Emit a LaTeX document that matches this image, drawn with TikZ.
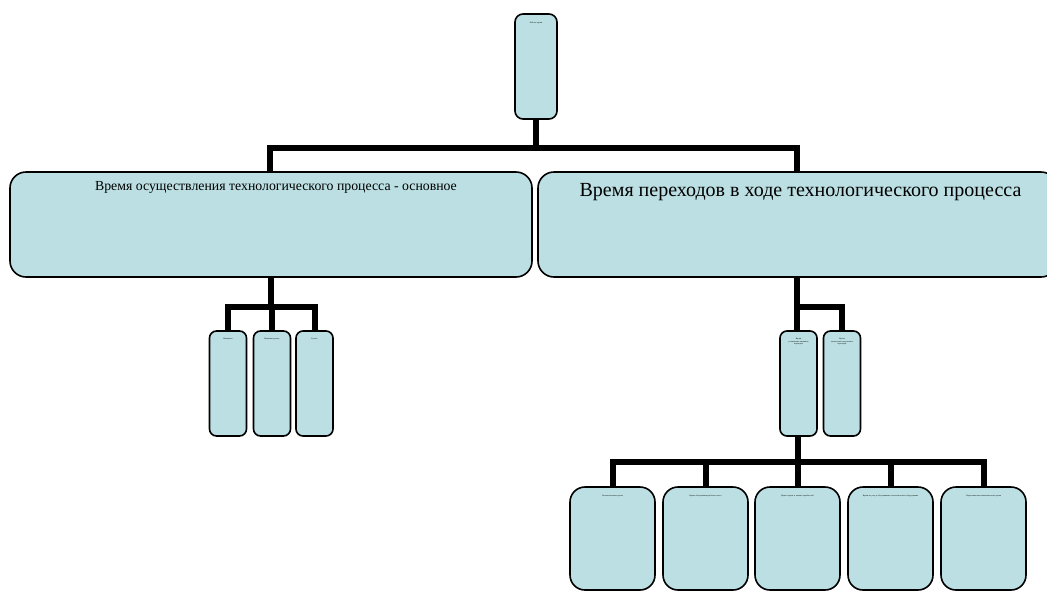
\documentclass[tikz,border=0pt]{standalone}
\usepackage{fontspec}
\setmainfont{Liberation Serif}
\definecolor{boxfill}{HTML}{BBDFE2}
\tikzset{
  box/.style={draw=black, line width=1.6pt, fill=boxfill, rectangle, inner sep=0pt, outer sep=0pt},
  bigbox/.style={box, rounded corners=16pt, minimum height=105pt},
  tallbox/.style={box, rounded corners=7pt, minimum width=37pt, minimum height=105pt},
  lowbox/.style={box, rounded corners=15pt, minimum width=85pt, minimum height=103pt},
  conn/.style={line width=6pt, draw=black},
  tiny/.style={font=\fontsize{2}{2.4}\selectfont, align=center, anchor=north, text width=32pt},
}
\begin{document}
\begin{tikzpicture}[x=1pt,y=1pt]
\useasboundingbox (0,0) rectangle (1047,-590);
\coordinate (j1) at (536,-148);
\coordinate (j2) at (271,-307);
\coordinate (j3) at (797,-307);
\coordinate (j4) at (798,-462);
% boxes
\node[box, rounded corners=8pt, minimum width=42pt, minimum height=105pt,
  label={[tiny, yshift=-5pt]north:Рабочее время}] (top) at (536,-66.5) {};
\node[bigbox, minimum width=522pt,
  label={[anchor=north, yshift=-6pt, xshift=5pt, font=\fontsize{13.8}{15}\selectfont]north:Время осуществления технологического процесса - основное}] (L) at (271,-224.5) {};
\node[bigbox, minimum width=519pt,
  label={[anchor=north, yshift=-8pt, xshift=3pt, font=\fontsize{20}{23}\selectfont]north:Время переходов в ходе технологического процесса}] (R) at (797.5,-224.5) {};
\node[tallbox, label={[tiny, yshift=-4pt]north:Машинное}] (s1) at (228,-383.5) {};
\node[tallbox, label={[tiny, yshift=-4pt]north:Машинно-ручное}] (s2) at (272,-383.5) {};
\node[tallbox, label={[tiny, yshift=-4pt]north:Ручное}] (s3) at (314.5,-383.5) {};
\node[tallbox, label={[tiny, yshift=-4pt]north:Время\\ установочно-зажимных\\ переходов}] (t1) at (798.5,-383.5) {};
\node[tallbox, label={[tiny, yshift=-4pt]north:Время\\ транспортно-загрузочных\\ переходов}] (t2) at (842,-383.5) {};
\node[lowbox, label={[tiny, text width=80pt, yshift=-5pt]north:Вспомогательное время}] (b1) at (612.5,-538.5) {};
\node[lowbox, label={[tiny, text width=80pt, yshift=-5pt]north:Время обслуживания рабочего места}] (b2) at (705.5,-538.5) {};
\node[lowbox, label={[tiny, text width=80pt, yshift=-5pt]north:Время отдыха и личных надобностей}] (b3) at (797.5,-538.5) {};
\node[lowbox, label={[tiny, text width=80pt, yshift=-5pt]north:Время на уход и обслуживание технологического оборудования}] (b4) at (890.5,-538.5) {};
\node[lowbox, label={[tiny, text width=80pt, yshift=-5pt]north:Подготовительно-заключительное время}] (b5) at (983.5,-538.5) {};
% connectors
\draw[conn] (top.south) -- (j1);
\draw[conn] (L.north -| 270,0) |- (j1) -| (R.north -| j3);
\draw[conn] (L.south -| j2) -- (j2);
\draw[conn] (s1.north) |- (j2) -| (s3.north);
\draw[conn] (s2.north) -- (s2.north |- j2);
\draw[conn] (R.south -| j3) -- (j3);
\draw[conn] (t1.north -| j3) |- (j3) -| (t2.north);
\draw[conn] (t1.south -| j4) -- (j4);
\draw[conn] (b1.north) |- (j4) -| (b5.north);
\draw[conn] (b3.north) -- (b3.north |- j4);
\draw[conn] (b2.north) -- (b2.north |- j4);
\draw[conn] (b4.north) -- (b4.north |- j4);
\end{tikzpicture}
\end{document}
